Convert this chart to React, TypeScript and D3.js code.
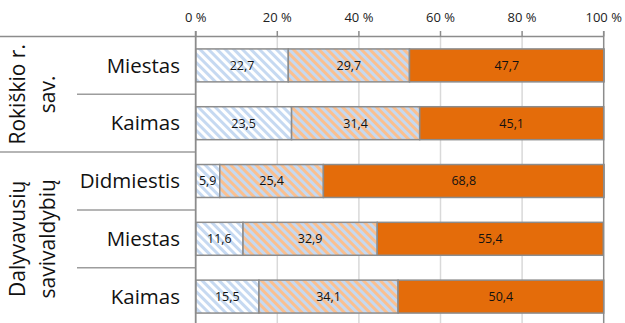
import React from 'react';
import * as d3 from 'd3';

// rows, top to bottom
const categories = ['Miestas', 'Kaimas', 'Didmiestis', 'Miestas', 'Kaimas'];
const groupLabels = [['Rokiškio r.', 'sav.'], ['Dalyvavusių', 'savivaldybių']];
const groupSizes = [2, 3];

const series1 = [22.7, 23.5, 5.9, 11.6, 15.5];
const series2 = [29.7, 31.4, 25.4, 32.9, 34.1];
const series3 = [47.7, 45.1, 68.8, 55.4, 50.4];

const ticks = [0, 20, 40, 60, 80, 100];

const W = 625;
const H = 323;
const AXIS = '#8c8c8c';
const GRID = '#d9d9d9';
const FONT = '"Open Sans", sans-serif';

const fmt = (v: number) => v.toFixed(1).replace('.', ',');

const App: React.FC = () => {
  const x = d3.scaleLinear().domain([0, 100]).range([195.7, 603.7]);
  const y = d3.scaleBand<number>()
    .domain(d3.range(categories.length))
    .range([36.5, 325.5])
    .paddingInner(0.43)
    .paddingOuter(0.215);

  const rows = categories.map((c, i) => ({ i, s1: series1[i], s2: series2[i], s3: series3[i] }));
  const stack = d3.stack<any>().keys(['s1', 's2', 's3'])(rows);
  const fills = ['url(#pat1)', 'url(#pat2)', '#e46c0a'];

  const step = y.step();
  const top = y.range()[0];
  const bottom = y.range()[1];

  // boundaries between rows; group edges reach the far left
  const groupEdges = new Set<number>([0]);
  let acc = 0;
  groupSizes.forEach(n => { acc += n; groupEdges.add(acc); });

  let start = 0;
  const groups = groupSizes.map((n, gi) => {
    const g = { label: groupLabels[gi], cy: top + (start + n / 2) * step };
    start += n;
    return g;
  });

  return (
    <svg width={W} height={H} style={{ position: 'fixed', left: 0, top: 0, background: '#fff' }}>
      <defs>
        <pattern id="pat1" width="6" height="6" patternUnits="userSpaceOnUse" patternTransform="rotate(-45)">
          <rect width="6" height="6" fill="#c6d9f1" />
          <rect width="3" height="6" fill="#ffffff" />
        </pattern>
        <pattern id="pat2" width="6" height="6" patternUnits="userSpaceOnUse" patternTransform="rotate(-45)">
          <rect width="6" height="6" fill="#fac090" />
          <rect width="3" height="6" fill="#c6d9f1" />
        </pattern>
      </defs>

      {/* gridlines */}
      {ticks.slice(1, -1).map(t => (
        <line key={t} x1={x(t)} x2={x(t)} y1={top} y2={H} stroke={GRID} strokeWidth={1.5} />
      ))}

      {/* top axis ticks + labels */}
      {ticks.map(t => (
        <g key={t}>
          <line x1={x(t)} x2={x(t)} y1={31} y2={top} stroke={AXIS} strokeWidth={1.5} />
          <text x={x(t)} y={22} textAnchor="middle" fontFamily={FONT} fontSize={13} fill="#222">{`${t} %`}</text>
        </g>
      ))}

      {/* bars */}
      {stack.map((layer, si) => (
        <g key={si}>
          {layer.map((d, i) => (
            <g key={i}>
              <rect x={x(d[0])} y={y(i)} width={x(d[1]) - x(d[0])} height={y.bandwidth()}
                fill={fills[si]} stroke={AXIS} strokeWidth={1.5} />
              <text x={(x(d[0]) + x(d[1])) / 2} y={(y(i) as number) + y.bandwidth() / 2} dy="0.35em"
                textAnchor="middle" fontFamily={FONT} fontSize={12.5} fill="#111">
                {fmt(d[1] - d[0])}
              </text>
            </g>
          ))}
        </g>
      ))}

      {/* plot frame */}
      <line x1={0} x2={x(100)} y1={top} y2={top} stroke={AXIS} strokeWidth={1.5} />
      <line x1={x(100)} x2={x(100)} y1={31} y2={H} stroke={AXIS} strokeWidth={1.5} />
      <line x1={x(0)} x2={x(0)} y1={31} y2={H} stroke={AXIS} strokeWidth={1.8} />

      {/* category separators */}
      {d3.range(1, categories.length + 1).map(k => (
        <line key={k} x1={groupEdges.has(k) ? 0 : 77} x2={x(0)} y1={top + k * step} y2={top + k * step}
          stroke={AXIS} strokeWidth={1.5} opacity={0.85} />
      ))}

      {/* category labels */}
      {categories.map((c, i) => (
        <text key={i} x={180} y={(y(i) as number) + y.bandwidth() / 2} dy="0.35em" textAnchor="end"
          fontFamily={FONT} fontSize={20.5} fill="#111">{c}</text>
      ))}

      {/* group labels */}
      {groups.map((g, gi) => (
        <text key={gi} transform={`translate(0,${g.cy}) rotate(-90)`} textAnchor="middle"
          fontFamily={FONT} fontSize={21} fill="#111">
          <tspan x={0} y={25}>{g.label[0]}</tspan>
          <tspan x={0} y={55}>{g.label[1]}</tspan>
        </text>
      ))}
    </svg>
  );
};

export default App;
